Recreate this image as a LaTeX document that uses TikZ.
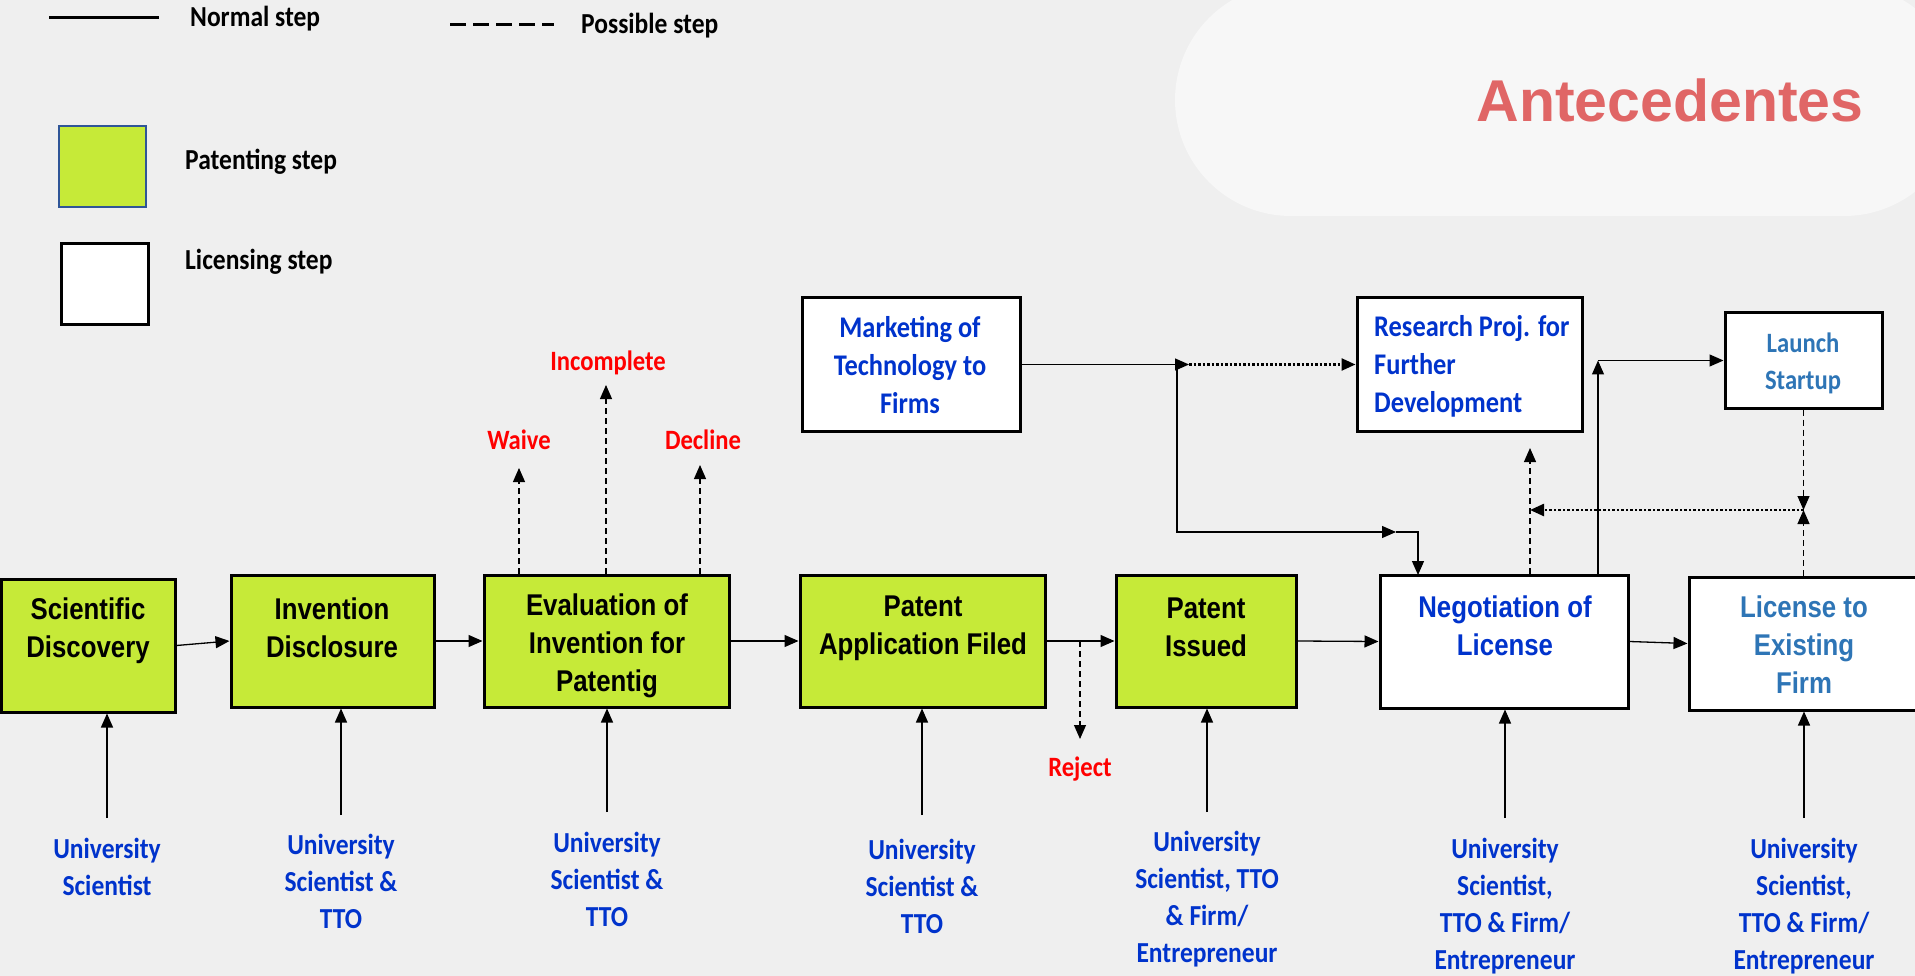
\documentclass[tikz,border=0pt]{standalone}
\usepackage{fontspec}
\setmainfont{Carlito}[FakeStretch=0.88]
\newfontfamily\arialc{Liberation Sans}[FakeStretch=0.86]
\newfontfamily\arialt{Liberation Sans}
\usetikzlibrary{arrows.meta}
\definecolor{bgc}{RGB}{239,239,239}
\definecolor{titlebg}{RGB}{247,247,247}
\definecolor{titlec}{RGB}{224,102,102}
\definecolor{pgreen}{RGB}{198,234,56}
\definecolor{tblue}{RGB}{0,51,204}
\definecolor{sblue}{RGB}{46,117,182}
\definecolor{legblue}{RGB}{47,85,151}
\begin{document}
\begin{tikzpicture}[x=1pt,y=-1pt,
  box/.style={draw=black,line width=3pt,inner sep=0pt},
  pbox/.style={box,fill=pgreen},
  lbox/.style={box,fill=white},
  arr/.style={line width=1.3pt,-{Triangle[length=14pt,width=12pt]}},
  dsh/.style={arr,dash pattern=on 6pt off 4pt,line width=1.1pt},
  dotl/.style={arr,dash pattern=on 2.5pt off 2pt,line width=2.4pt},
  atxt/.style={font=\arialc\bfseries\fontsize{30}{38}\selectfont,align=center,inner sep=0pt},
  ctxt/.style={font=\bfseries\fontsize{30}{38}\selectfont,align=center,inner sep=0pt,text=tblue},
  who/.style={font=\bfseries\fontsize{29}{37}\selectfont,align=center,inner sep=0pt,text=tblue},
  rtxt/.style={font=\bfseries\fontsize{28}{34}\selectfont,inner sep=0pt,text=red},
  legt/.style={font=\bfseries\fontsize{29}{35}\selectfont,inner sep=0pt,anchor=west}
]
\useasboundingbox (0,0) rectangle (1915,976);
\clip (0,0) rectangle (1915,976);
\fill[bgc] (0,0) rectangle (1915,976);
% title background
\fill[titlebg,rounded corners=116pt] (1175,-16) rectangle (1960,216);
\node[font=\arialt\bfseries\fontsize{59}{70}\selectfont,text=titlec,inner sep=0pt] (title) at (1670,100) {Antecedentes};

% legend
\coordinate (ln1) at (49,18); \coordinate (ln2) at (159,18);
\draw[line width=3pt] (ln1) -- (ln2);
\node[legt] (lnt) at (190,19) {Normal step};
\coordinate (ld1) at (450,25); \coordinate (ld2) at (554,25);
\draw[line width=3pt,dash pattern=on 16pt off 7pt] (ld1) -- (ld2);
\node[legt] (ldt) at (581,26) {Possible step};
\node[draw=legblue,line width=2pt,fill=pgreen,minimum width=87,minimum height=81] (lg) at (102.5,166.5) {};
\node[legt] (lgt) at (185,162) {Patenting step};
\node[draw=black,line width=3pt,fill=white,minimum width=87,minimum height=81] (lw) at (104.5,284.5) {};
\node[legt] (lwt) at (185,262) {Licensing step};

% main boxes
\node[pbox,minimum width=173.5,minimum height=133] (sd) at (88.25,645.5) {};
\node[pbox,minimum width=203,minimum height=132] (id) at (332.5,641) {};
\node[pbox,minimum width=245,minimum height=132] (ev) at (606.5,641) {};
\node[pbox,minimum width=245,minimum height=132] (paf) at (922.5,641) {};
\node[pbox,minimum width=180,minimum height=132] (pi) at (1206,641) {};
\node[lbox,minimum width=248,minimum height=133] (neg) at (1504,641.5) {};
\node[lbox,minimum width=230,minimum height=133] (lic) at (1804,643.5) {};

\node[atxt] (sdt) at (88,631) {Scientific\\Discovery};
\node[atxt] (idt) at (332,628) {Invention\\Disclosure};
\node[atxt] (evt) at (607,646) {Evaluation of\\Invention for\\Patentig};
\node[atxt] (paft) at (923,628) {Patent\\Application Filed};
\node[atxt] (pit) at (1206,627) {Patent\\Issued};
\node[atxt,text=tblue] (negt) at (1505,626) {Negotiation of\\License};
\node[atxt,text=sblue] (lict) at (1804,645) {License to\\Existing\\Firm};

% upper boxes
\node[lbox,minimum width=218,minimum height=133] (mk) at (911,364.5) {};
\node[lbox,minimum width=225,minimum height=133] (rp) at (1469.5,364.5) {};
\node[lbox,minimum width=157,minimum height=95] (ls) at (1803.5,360.5) {};
\node[ctxt] (mkt) at (910,365) {Marketing of\\Technology to\\Firms};
\node[ctxt,align=left,anchor=west] (rpt) at (1374,366) {Research Proj. for\\Further\\Development};
\node[ctxt,text=sblue,font=\bfseries\fontsize{28}{37}\selectfont] (lst) at (1803,363) {Launch\\Startup};

% actors
\node[who] (w1) at (107,867) {University\\Scientist};
\node[who] (w2) at (341,881) {University\\Scientist \&\\TTO};
\node[who] (w3) at (607,879) {University\\Scientist \&\\TTO};
\node[who] (w4) at (922,886) {University\\Scientist \&\\TTO};
\node[who] (w5) at (1207,899) {University\\Scientist, TTO\\\& Firm/\\Entrepreneur};
\node[who] (w6) at (1505,906) {University\\Scientist,\\TTO \& Firm/\\Entrepreneur};
\node[who] (w7) at (1804,906) {University\\Scientist,\\TTO \& Firm/\\Entrepreneur};

\coordinate (a1) at (107,818);
\coordinate (a2) at (341,815);
\coordinate (a3) at (607,812);
\coordinate (a4) at (922,815);
\coordinate (a5) at (1207,812);
\coordinate (a6) at (1505,818);
\coordinate (a7) at (1804,818);
\draw[arr] (a1) -- (a1 |- sd.south);
\draw[arr] (a2) -- (a2 |- id.south);
\draw[arr] (a3) -- (a3 |- ev.south);
\draw[arr] (a4) -- (a4 |- paf.south);
\draw[arr] (a5) -- (a5 |- pi.south);
\draw[arr] (a6) -- (a6 |- neg.south);
\draw[arr] (a7) -- (a7 |- lic.south);

% main flow
\draw[arr] (sd.east) -- (id.west);
\draw[arr] (id.east) -- (ev.west);
\draw[arr] (ev.east) -- (paf.west);
\draw[arr] (paf.east) -- (pi.west);
\draw[arr] (pi.east) -- (neg.west);
\draw[arr] (neg.east) -- (lic.west);

% reject
\coordinate (rj) at (1080,739);
\draw[dsh] (paf.east -| rj) -- (rj);
\node[rtxt] (rjt) at (1080,769) {Reject};

% evaluation outcomes
\coordinate (wv) at (519,468);
\coordinate (ic) at (606,385);
\coordinate (dc) at (700,465);
\draw[dsh] (ev.north -| wv) -- (wv);
\draw[dsh] (ev.north -| ic) -- (ic);
\draw[dsh] (ev.north -| dc) -- (dc);
\node[rtxt] (wvt) at (519,440) {Waive};
\node[rtxt] (ict) at (608,363) {Incomplete};
\node[rtxt] (dct) at (703,440) {Decline};

% marketing paths
\coordinate (ja) at (1189,364.5);
\coordinate (jv) at (1177,364.5);
\coordinate (jb) at (1396,532);
\coordinate (n1) at (1418,575);
\draw[arr] (mk.east) -- (ja);
\draw[dotl] (ja) -- (rp.west);
\draw[arr] (jv) |- (jb);
\draw[arr] (jb) -| (n1);

% negotiation to research / startup
\coordinate (rpb) at (1530,448);
\draw[dsh] (neg.north -| rpb) -- (rpb);
\coordinate (lc) at (1598,360.5);
\draw[arr] (neg.north -| lc) -- (lc);
\draw[arr] (lc) -- (ls.west);

% startup <-> license
\coordinate (m) at (1803.5,510);
\draw[dsh] (ls.south) -- (m);
\draw[dsh] (lic.north -| m) -- (m);
\draw[dotl] (m) -- (rpb |- m);
\end{tikzpicture}
\end{document}
